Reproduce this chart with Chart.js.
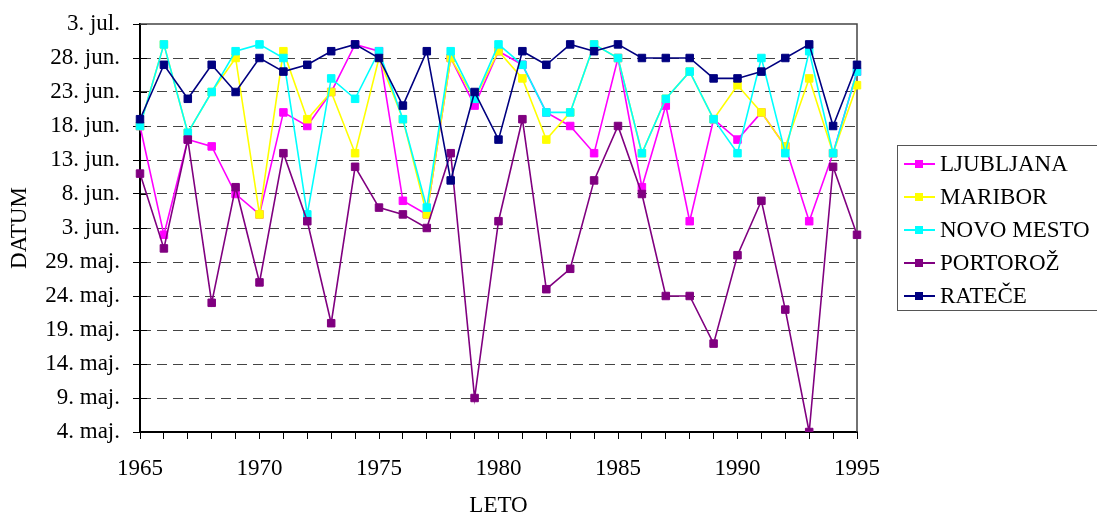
<!DOCTYPE html>
<html>
<head>
<meta charset="utf-8">
<script src="https://cdn.jsdelivr.net/npm/chart.js@4/dist/chart.umd.min.js"></script>
<style>
  html, body { margin: 0; padding: 0; background: #fff; overflow: hidden; }
  #wrap { position: relative; width: 1097px; height: 517px; overflow: hidden; }
  #c { position: absolute; left: 0; top: 0; }
  #legend { position: absolute; left: 897px; top: 145px; width: 215px; height: 166px;
            border: 1px solid #555; box-sizing: border-box; padding-top: 1px;
            font-family: "Liberation Serif", "Times New Roman", serif; font-size: 23px; color: #000; }
  .item { position: relative; height: 33px; }
  .line { position: absolute; left: 6px; top: 16px; width: 31px; height: 2px; }
  .sq { position: absolute; left: 17px; top: 13px; width: 8px; height: 8px; }
  .lbl { position: absolute; left: 42px; top: 0; line-height: 33px; white-space: nowrap; }
</style>
</head>
<body>
<div id="wrap">
  <canvas id="c" width="1097" height="517"></canvas>
  <div id="legend"></div>
</div>
<script>
// Years (x categories)
const years = [1965,1966,1967,1968,1969,1970,1971,1972,1973,1974,1975,1976,1977,1978,1979,1980,
               1981,1982,1983,1984,1985,1986,1987,1988,1989,1990,1991,1992,1993,1994,1995];

// Values: days after 4. maj (0 = 4. maj, 60 = 3. jul)
const ljubljana = [45,29,43,42,35,32,47,45,50,57,56,34,32,55,48,56,54,47,45,41,55,36,48,31,46,43,47,42,31,41,53];
const maribor   = [45,57,44,50,55,32,56,46,50,41,55,46,32,55,49,56,52,43,47,57,55,41,49,53,46,51,47,42,52,41,51];
const novoMesto = [45,57,44,50,56,57,55,32,52,49,56,46,33,56,49,57,54,47,47,57,55,41,49,53,46,41,55,41,56,41,53];
const portoroz  = [38,27,43,19,36,22,41,31,16,39,33,32,30,41,5,31,46,21,24,37,45,35,20,20,13,26,34,18,0,39,29];
const ratece    = [46,54,49,54,50,55,53,54,56,57,55,48,56,37,50,43,56,54,57,56,57,55,55,55,52,52,53,55,57,45,54];

// Y tick labels, one every 5 days from 4. maj
const yTickLabels = ['4. maj.','9. maj.','14. maj.','19. maj.','24. maj.','29. maj.',
                     '3. jun.','8. jun.','13. jun.','18. jun.','23. jun.','28. jun.','3. jul.'];

const seriesNames  = ['LJUBLJANA','MARIBOR','NOVO MESTO','PORTOROŽ','RATEČE'];
const seriesData   = [ljubljana, maribor, novoMesto, portoroz, ratece];
const seriesColors = ['#FF00FF','#FFFF00','#00FFFF','#800080','#000080'];

const FONT = '"Liberation Serif", "Times New Roman", serif';

const datasets = seriesNames.map((name, i) => ({
  label: name,
  data: seriesData[i],
  borderColor: seriesColors[i],
  backgroundColor: seriesColors[i],
  borderWidth: 1.6,
  pointStyle: 'rect',
  pointRadius: 5.3,
  pointBorderWidth: 1,
  pointBorderColor: seriesColors[i],
  pointBackgroundColor: seriesColors[i],
  tension: 0,
  fill: false,
  order: seriesNames.length - i
}));

const frame = {
  id: 'frame',
  beforeDatasetsDraw(chart) {
    const {ctx, chartArea: a} = chart;
    const y = chart.scales.y;
    ctx.save();
    ctx.strokeStyle = '#000';
    ctx.lineWidth = 1;
    y.ticks.forEach(t => {
      const py = Math.round(y.getPixelForValue(t.value)) + 0.5;
      ctx.beginPath();
      ctx.moveTo(a.left, py);
      ctx.lineTo(a.left + 7, py);
      ctx.stroke();
    });
    ctx.strokeStyle = '#444';
    ctx.lineWidth = 1.5;
    ctx.beginPath();
    ctx.moveTo(a.left, a.top);
    ctx.lineTo(a.right, a.top);
    ctx.lineTo(a.right, a.bottom);
    ctx.stroke();
    ctx.restore();
  }
};

new Chart(document.getElementById('c'), {
  type: 'line',
  data: { labels: years.map(String), datasets },
  options: {
    responsive: false,
    animation: false,
    devicePixelRatio: 1,
    layout: { padding: { left: 0, top: 24, right: 240, bottom: 0 } },
    plugins: { legend: { display: false }, tooltip: { enabled: false } },
    scales: {
      x: {
        type: 'category',
        offset: false,
        grid: { display: true, drawOnChartArea: false, drawTicks: true, tickLength: 7,
                tickColor: '#000', tickWidth: 1 },
        border: { display: true, color: '#000', width: 2 },
        ticks: {
          autoSkip: false, maxRotation: 0, minRotation: 0, padding: 16,
          color: '#000', font: { family: FONT, size: 23 },
          callback: (v, i) => (years[i] % 5 === 0 ? String(years[i]) : '')
        },
        title: { display: true, text: 'LETO', color: '#000',
                 font: { family: FONT, size: 23, lineHeight: 1 }, padding: { top: 0, bottom: 0 } },
        afterFit: s => { s.height = 85; s.paddingLeft = 0; s.paddingRight = 0; }
      },
      y: {
        type: 'linear',
        min: 0, max: 60,
        grid: {
          display: true, drawOnChartArea: true, drawTicks: true, tickLength: 7,
          tickColor: '#000', tickWidth: 1, lineWidth: 1, tickBorderDash: [],
          color: c => (c.tick && (c.tick.value === 0 || c.tick.value === 60)) ? 'rgba(0,0,0,0)' : '#444'
        },
        border: { display: true, color: '#000', width: 2, dash: [10, 6] },
        ticks: {
          stepSize: 5, padding: 13, color: '#000', font: { family: FONT, size: 23 },
          callback: v => yTickLabels[Math.round(v / 5)]
        },
        title: { display: true, text: 'DATUM', color: '#000',
                 font: { family: FONT, size: 23, lineHeight: 1 }, padding: { top: 8, bottom: 0 } },
        afterFit: s => { s.width = 140; s.paddingTop = 0; s.paddingBottom = 0; }
      }
    }
  },
  plugins: [frame]
});

// HTML legend
const leg = document.getElementById('legend');
seriesNames.forEach((name, i) => {
  const it = document.createElement('div'); it.className = 'item';
  const ln = document.createElement('div'); ln.className = 'line'; ln.style.background = seriesColors[i];
  const sq = document.createElement('div'); sq.className = 'sq'; sq.style.background = seriesColors[i];
  const lb = document.createElement('div'); lb.className = 'lbl'; lb.textContent = name;
  it.appendChild(ln); it.appendChild(sq); it.appendChild(lb);
  leg.appendChild(it);
});
</script>
</body>
</html>
